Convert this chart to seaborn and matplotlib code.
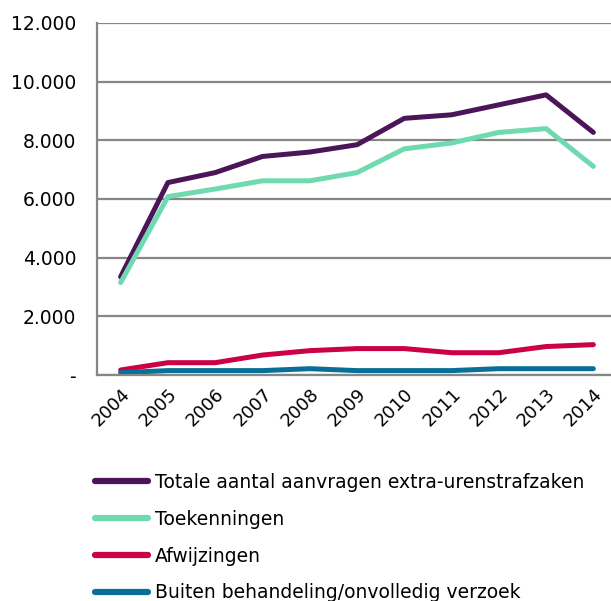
import matplotlib
matplotlib.use("Agg")
import matplotlib.pyplot as plt
import pandas as pd
import seaborn as sns
from matplotlib.ticker import FuncFormatter, FixedLocator

years = ["2004", "2005", "2006", "2007", "2008", "2009", "2010", "2011", "2012", "2013", "2014"]
totaal = [3350, 6560, 6900, 7450, 7600, 7850, 8750, 8870, 9210, 9550, 8270]
toekenningen = [3150, 6080, 6340, 6620, 6620, 6900, 7710, 7910, 8270, 8400, 7110]
afwijzingen = [170, 420, 420, 680, 830, 900, 900, 760, 760, 970, 1035]
buiten = [80, 150, 150, 150, 215, 150, 150, 150, 215, 215, 215]

series_names = [
    "Totale aantal aanvragen extra-urenstrafzaken",
    "Toekenningen",
    "Afwijzingen",
    "Buiten behandeling/onvolledig verzoek",
]
colors = ["#4B1558", "#6FD9B0", "#CC0044", "#086F97"]

frames = []
for name, vals in zip(series_names, [totaal, toekenningen, afwijzingen, buiten]):
    frames.append(pd.DataFrame({"jaar": range(len(years)), "aantal": vals, "reeks": name}))
df = pd.concat(frames)

sns.set_style("white")
plt.rcParams["font.family"] = ["DejaVu Sans"]
plt.rcParams["text.color"] = "#000000"

fig = plt.figure(figsize=(6.11, 6.01), dpi=100)
ax = fig.add_axes([97 / 611, 1 - 375 / 601, 520 / 611, 352 / 601])

sns.lineplot(data=df, x="jaar", y="aantal", hue="reeks", palette=colors,
             hue_order=series_names, linewidth=3.6, ax=ax, legend=True)
for line in ax.get_lines():
    line.set_solid_capstyle("round")
    line.set_solid_joinstyle("round")

ax.set_xlim(-0.5, 10.5)
ax.set_ylim(0, 12000)
ax.set_yticks(range(0, 12001, 2000))
ax.yaxis.set_major_formatter(FuncFormatter(
    lambda v, p: "-" if v == 0 else f"{int(v):,}".replace(",", ".")))
ax.set_xticks(range(len(years)))
ax.set_xticklabels(years, rotation=45, ha="right", rotation_mode="anchor")
ax.xaxis.set_minor_locator(FixedLocator([i - 0.5 for i in range(len(years) + 1)]))
ax.tick_params(axis="x", which="major", length=0, pad=7, labelsize=13, labelcolor="#000000")
ax.tick_params(axis="x", which="minor", length=7, width=1.5, color="#868686", direction="out")
ax.tick_params(axis="y", length=7, width=1.5, color="#868686", labelsize=13.5,
               labelcolor="#000000", pad=8)
ax.grid(axis="y", color="#868686", linewidth=1.6)
ax.set_axisbelow(True)
for s in ["top", "right"]:
    ax.spines[s].set_visible(False)
ax.spines["left"].set_color("#868686")
ax.spines["left"].set_linewidth(1.6)
ax.spines["bottom"].set_color("#868686")
ax.spines["bottom"].set_linewidth(1.6)
ax.set_xlabel("")
ax.set_ylabel("")

handles, labels = ax.get_legend_handles_labels()
ax.get_legend().remove()
leg = fig.legend(handles, labels, loc="upper left", bbox_to_anchor=(95 / 611, 1 - 473 / 601),
                 frameon=False, fontsize=13.5, handlelength=2.8, handletextpad=0.4,
                 labelspacing=0.95, borderpad=0, borderaxespad=0)
for line in leg.get_lines():
    line.set_linewidth(4.5)
    line.set_solid_capstyle("round")

fig.savefig("out.png", dpi=100)
